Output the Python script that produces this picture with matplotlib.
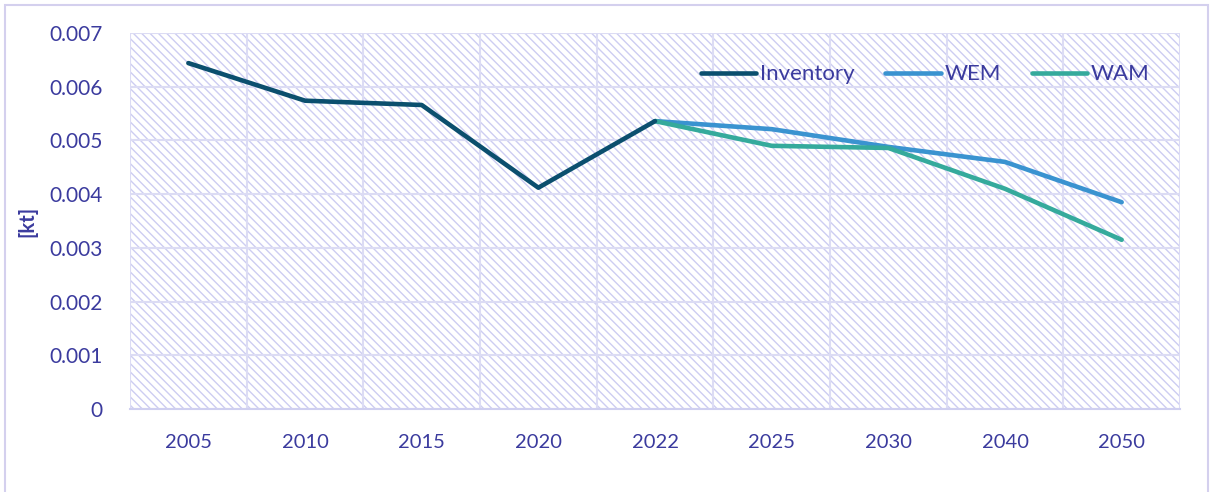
## line chart of emission projections: inventory, WEM, WAM
from matplotlib import (pyplot as plt, patches as pat)

# -----------------------------------------------------------------------------
# data
years = ['2005', '2010', '2015', '2020', '2022', '2025', '2030', '2040', '2050']
inventory = [0.00644, 0.00574, 0.00566, 0.00412, 0.00536]
wem = [0.00536, 0.00521, 0.00488, 0.00460, 0.00385]
wam = [0.00536, 0.00490, 0.00486, 0.00410, 0.00315]

# -----------------------------------------------------------------------------
txtclr = '#3b3b9e'
gridclr = '#dcdcf4'
hatchclr = '#cdcdf2'
plt.rcParams['font.family'] = ['Lato', 'DejaVu Sans']
plt.rcParams['hatch.color'] = hatchclr
plt.rcParams['hatch.linewidth'] = 1.0

fig = plt.figure(figsize=(12.13, 4.92), dpi=100)
ax = fig.add_axes([0.1072, 0.1687, 0.8656, 0.7642])

# figure frame
fig.patches.append(pat.Rectangle((0.004, -0.01), 0.992, 1.0, transform=fig.transFigure,
    fill=False, edgecolor='#d4d0ee', linewidth=1.5))

# hatched plot area
ax.add_patch(pat.Rectangle((0, 0), 1, 1, transform=ax.transAxes, facecolor='white',
    edgecolor=hatchclr, linewidth=0, hatch='\\\\\\\\', zorder=0))

xi = list(range(len(years)))
ax.plot(xi[4:], wem, color='#3a93d0', linewidth=3.3, label='WEM', zorder=3,
    solid_capstyle='round')
ax.plot(xi[4:], wam, color='#35aa9c', linewidth=3.3, label='WAM', zorder=3,
    solid_capstyle='round')
ax.plot(xi[:5], inventory, color='#0b4f6e', linewidth=3.3, label='Inventory', zorder=4,
    solid_capstyle='round')

ax.set_xlim(-0.5, len(years) - 0.5)
ax.set_ylim(0, 0.007)
ax.set_xticks(xi)
ax.set_xticklabels(years)
ax.set_yticks([i * 0.001 for i in range(8)])
ax.set_yticklabels(['0'] + [f'{i * 0.001:.3f}' for i in range(1, 8)])
ax.set_xticks([i - 0.5 for i in range(len(years) + 1)], minor=True)
ax.grid(True, which='minor', axis='x', color=gridclr, linewidth=1.5, zorder=1)
ax.grid(True, which='major', axis='y', color=gridclr, linewidth=1.5, zorder=1)
ax.set_axisbelow(True)
ax.tick_params(which='both', length=0, colors=txtclr)
ax.tick_params(axis='x', pad=18, labelsize=14.5)
ax.tick_params(axis='y', pad=20, labelsize=15)
for sp in ['top', 'right', 'left']:
    ax.spines[sp].set_visible(False)
ax.spines['bottom'].set_color('#cfcff0')
ax.spines['bottom'].set_linewidth(1.5)

ax.set_ylabel('[kt]', color=txtclr, fontsize=14.5, fontweight='bold', labelpad=8)

hdl, lbl = ax.get_legend_handles_labels()
order = [2, 0, 1]
ax.legend([hdl[i] for i in order], [lbl[i] for i in order], loc='upper right',
    bbox_to_anchor=(0.99, 0.97), ncol=3, frameon=False, labelcolor=txtclr,
    fontsize=16, handlelength=2.5, handletextpad=0.15, columnspacing=1.4)

fig.savefig('out.png', dpi=100)
